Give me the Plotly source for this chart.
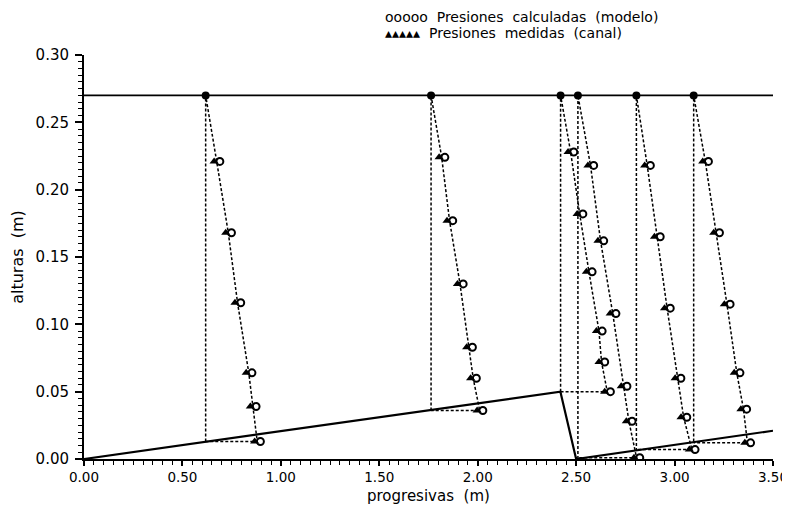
import plotly.graph_objects as go

# ---- data ----
surface_z = 0.27
bed_x = [0.0, 2.42, 2.50, 3.50]
bed_z = [0.0, 0.050, 0.0, 0.021]

stations = [0.618, 1.763, 2.421, 2.509, 2.806, 3.097]
station_bed = [0.013, 0.036, 0.050, 0.000, 0.006, 0.013]

# pressure-diagram points (x of the plotted pressure, z of the tap)
p1_x = [0.674, 0.733, 0.780, 0.837, 0.858, 0.880]
p1_z = [0.221, 0.168, 0.116, 0.064, 0.039, 0.013]
p2_x = [1.817, 1.857, 1.910, 1.957, 1.977, 2.010]
p2_z = [0.224, 0.177, 0.130, 0.083, 0.060, 0.036]
p3_x = [2.472, 2.518, 2.565, 2.616, 2.629, 2.658]
p3_z = [0.228, 0.182, 0.139, 0.095, 0.072, 0.050]
p4_x = [2.573, 2.624, 2.686, 2.742, 2.768, 2.807]
p4_z = [0.218, 0.162, 0.108, 0.054, 0.028, 0.001]
p5_x = [2.861, 2.911, 2.962, 3.016, 3.046, 3.088]
p5_z = [0.218, 0.165, 0.112, 0.060, 0.031, 0.007]
p6_x = [3.156, 3.212, 3.266, 3.316, 3.350, 3.370]
p6_z = [0.221, 0.168, 0.115, 0.064, 0.037, 0.012]

# measured (triangle) and calculated (circle) offsets about the plotted point
meas_offset = -0.013
calc_offset = 0.016

profiles_x = [p1_x, p2_x, p3_x, p4_x, p5_x, p6_x]
profiles_z = [p1_z, p2_z, p3_z, p4_z, p5_z, p6_z]

x_ticks = [0.0, 0.5, 1.0, 1.5, 2.0, 2.5, 3.0, 3.5]
y_ticks = [0.0, 0.05, 0.10, 0.15, 0.20, 0.25, 0.30]

FONT = "DejaVu Sans"

# page body adds an 8px offset; figure is sized to fit the 790x507 window
W, H = 782, 499
ML, MR, MT, MB = 76, 17, 47, 48
PW, PH = W - ML - MR, H - MT - MB

fig = go.Figure()

# bed
fig.add_trace(go.Scatter(x=bed_x, y=bed_z, mode="lines",
                         line=dict(color="black", width=2.2), showlegend=False))
# water surface
fig.add_trace(go.Scatter(x=[0.0, 3.5], y=[surface_z, surface_z], mode="lines",
                         line=dict(color="black", width=1.8), showlegend=False))

for xs, zb, px, pz in zip(stations, station_bed, profiles_x, profiles_z):
    # closed dashed pressure diagram
    lx = [xs, xs] + px + [xs]
    lz = [zb, surface_z] + pz + [pz[-1]]
    fig.add_trace(go.Scatter(x=lx, y=lz, mode="lines",
                             line=dict(color="black", width=1.5, dash="3px,2px"),
                             showlegend=False))
    # measured
    fig.add_trace(go.Scatter(x=[v + meas_offset for v in px], y=pz, mode="markers",
                             marker=dict(symbol="triangle-up", size=8, color="black"),
                             showlegend=False))
    # calculated
    fig.add_trace(go.Scatter(x=[v + calc_offset for v in px], y=pz, mode="markers",
                             marker=dict(symbol="circle-open", size=7, color="black",
                                         line=dict(width=2, color="black")),
                             showlegend=False))

# surface dots
fig.add_trace(go.Scatter(x=stations, y=[surface_z] * len(stations), mode="markers",
                         marker=dict(symbol="circle", size=8, color="black"),
                         showlegend=False))

leg_x = (383 - 8 - ML) / PW
fig.add_annotation(xref="paper", yref="paper", x=leg_x, y=1.0, yshift=MT - 9,
                   xanchor="left", yanchor="middle", showarrow=False,
                   text="ooooo  Presiones  calculadas  (modelo)",
                   font=dict(family=FONT, size=14, color="black"))
fig.add_annotation(xref="paper", yref="paper", x=leg_x, y=1.0, yshift=MT - 25,
                   xanchor="left", yanchor="middle", showarrow=False,
                   text="▴▴▴▴▴  Presiones  medidas  (canal)",
                   font=dict(family=FONT, size=14, color="black"))

# x-axis title
fig.add_annotation(xref="paper", yref="paper", x=0.5, y=0.0, yshift=-(496 - 8 - (MT + PH)),
                   xanchor="center", yanchor="middle", showarrow=False,
                   text="progresivas  (m)",
                   font=dict(family=FONT, size=15, color="black"))

fig.update_layout(
    width=W, height=H,
    margin=dict(l=ML, r=MR, t=MT, b=MB),
    paper_bgcolor="white", plot_bgcolor="white",
    font=dict(family=FONT, color="black"),
    xaxis=dict(range=[0, 3.5], tickvals=x_ticks,
               ticktext=[f"{v:.2f}" for v in x_ticks],
               showgrid=False, zeroline=False, showline=True, automargin=False,
               linecolor="black", linewidth=2,
               ticks="outside", ticklen=5, tickwidth=1.5, tickcolor="black",
               minor=dict(dtick=0.05, ticks="outside", ticklen=4,
                          tickwidth=1.3, tickcolor="black", showgrid=False),
               tickfont=dict(family=FONT, size=13.5)),
    yaxis=dict(range=[0, 0.30], tickvals=y_ticks,
               ticktext=[f"{v:.2f}" for v in y_ticks],
               showgrid=False, zeroline=False, showline=True, automargin=False,
               linecolor="black", linewidth=2,
               ticks="outside", ticklen=7, tickwidth=1.5, tickcolor="black",
               ticklabelstandoff=3,
               minor=dict(dtick=0.005, ticks="outside", ticklen=4,
                          tickwidth=1.3, tickcolor="black", showgrid=False),
               tickfont=dict(family=FONT, size=15),
               title=dict(text="alturas  (m)", font=dict(family=FONT, size=16),
                          standoff=8)),
)

fig.write_html("out.html")
